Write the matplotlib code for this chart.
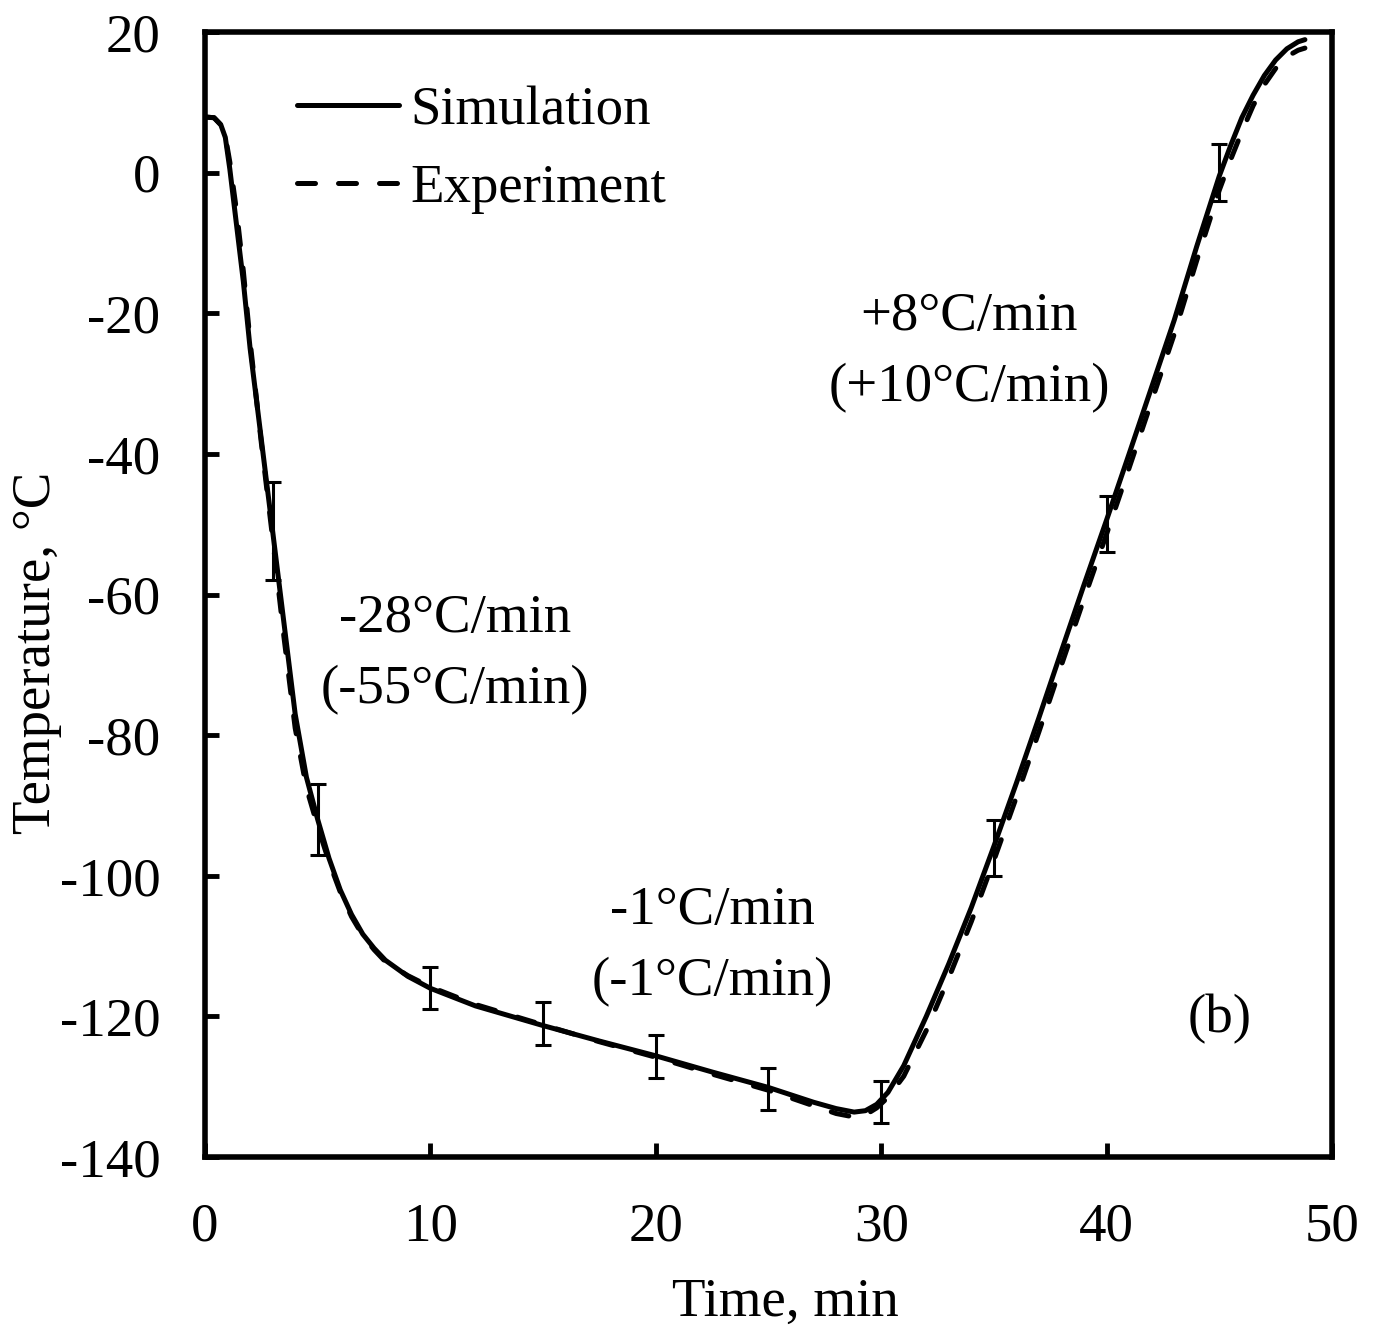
import numpy as np
import matplotlib.pyplot as plt

plt.rcParams['font.family'] = ['Liberation Serif', 'DejaVu Serif']
plt.rcParams['font.size'] = 39.5
plt.rcParams['axes.unicode_minus'] = False

# simulated temperature history (min, degC)
t_sim = [0, 0.4, 0.7, 0.9, 1.1, 1.4, 1.7, 2.0, 2.5, 3.0, 3.5, 4.0, 4.5, 5.0,
         5.5, 6.0, 6.5, 7.0, 7.5, 8.0, 9.0, 10, 12, 15, 17.5, 20, 22.5, 25,
         27, 28, 28.8, 29.3, 29.8, 30.3, 31, 32, 33, 34, 35, 36, 37, 38, 39,
         40, 41, 42, 43, 44, 45, 45.5, 46, 46.5, 47, 47.5, 48, 48.5, 48.8]
T_sim = [7.9, 7.8, 6.8, 5.0, 0.5, -7.5, -15.5, -25, -38, -51, -64, -77, -86,
         -92, -97.5, -102, -105.5, -108.3, -110.3, -112, -114.3, -116, -118.5,
         -121.3, -123.5, -125.6, -127.9, -130.1, -132.2, -133.1, -133.6,
         -133.4, -132.5, -130.8, -127, -120, -112.5, -104.5, -95.8, -86.8,
         -77.5, -68, -58.6, -49.4, -40, -30.5, -21, -10.5, -0.5, 3.8, 7.8,
         11, 13.8, 16, 17.6, 18.6, 18.9]

# measured temperature history
t_exp = t_sim
T_exp = [7.9, 7.8, 6.8, 5.2, 1.5, -5.5, -14, -24, -38.5, -52, -66, -79,
         -87.5, -93, -98, -102.3, -105.8, -108.5, -110.5, -112.2, -114.2,
         -115.8, -118.3, -121.2, -123.6, -125.8, -128.2, -130.5, -132.7,
         -133.8, -134.3, -134, -133, -131.5, -128.5, -122, -114.5, -106.5,
         -97.8, -88.8, -79.5, -70, -60.6, -51.4, -42, -32.5, -23, -12.5, -2.5,
         1.8, 5.8, 9.5, 12.5, 14.8, 16.5, 17.4, 17.7]

# spread of the measurements
t_err = [3, 5, 10, 15, 20, 25, 30, 35, 40, 45]
T_err_mid = [-51, -92, -116, -121, -125.7, -130.3, -132.2, -96, -50, 0]
T_err = [7, 5, 3, 3, 3, 3, 3, 4, 4, 4]

fig = plt.figure(figsize=(13.76, 13.30), dpi=100)
ax = fig.add_axes([0.149, 0.130, 0.819, 0.846])

lw = 3.6
ax.plot(t_sim, T_sim, color='black', lw=lw, solid_capstyle='round',
        label='Simulation')
ax.plot(t_exp, T_exp, color='black', lw=lw, dashes=(3.6, 4.6),
        dash_capstyle='round', label='Experiment')
ax.errorbar(t_err, T_err_mid, yerr=T_err, fmt='none', ecolor='black',
            elinewidth=2.2, capsize=6, capthick=2.2)

ax.set_xlim(0, 50)
ax.set_ylim(-140, 20)
ax.set_xticks(np.arange(0, 51, 10))
ax.set_yticks(np.arange(-140, 21, 20))
ax.tick_params(direction='in', length=10, width=3.5, pad=32)
for s in ax.spines.values():
    s.set_linewidth(4)

ax.set_xlabel('Time, min')
ax.set_ylabel('Temperature, °C')
ax.xaxis.set_label_coords(0.515, -0.107)
ax.yaxis.set_label_coords(-0.127, 0.448)

ax.text(11.1, -68.5, '-28°C/min\n(-55°C/min)', ha='center', va='center',
        linespacing=1.55)
ax.text(22.5, -110, '-1°C/min\n(-1°C/min)', ha='center', va='center',
        linespacing=1.55)
ax.text(33.9, -25.6, '+8°C/min\n(+10°C/min)', ha='center', va='center',
        linespacing=1.55)
ax.text(45.0, -120.4, '(b)', ha='center', va='center')

ax.legend(loc='upper left', bbox_to_anchor=(0.082, 0.952), frameon=False,
          handlelength=1.85, handletextpad=0.2, labelspacing=0.5,
          borderpad=0, borderaxespad=0)

fig.savefig('out.png', dpi=100)
